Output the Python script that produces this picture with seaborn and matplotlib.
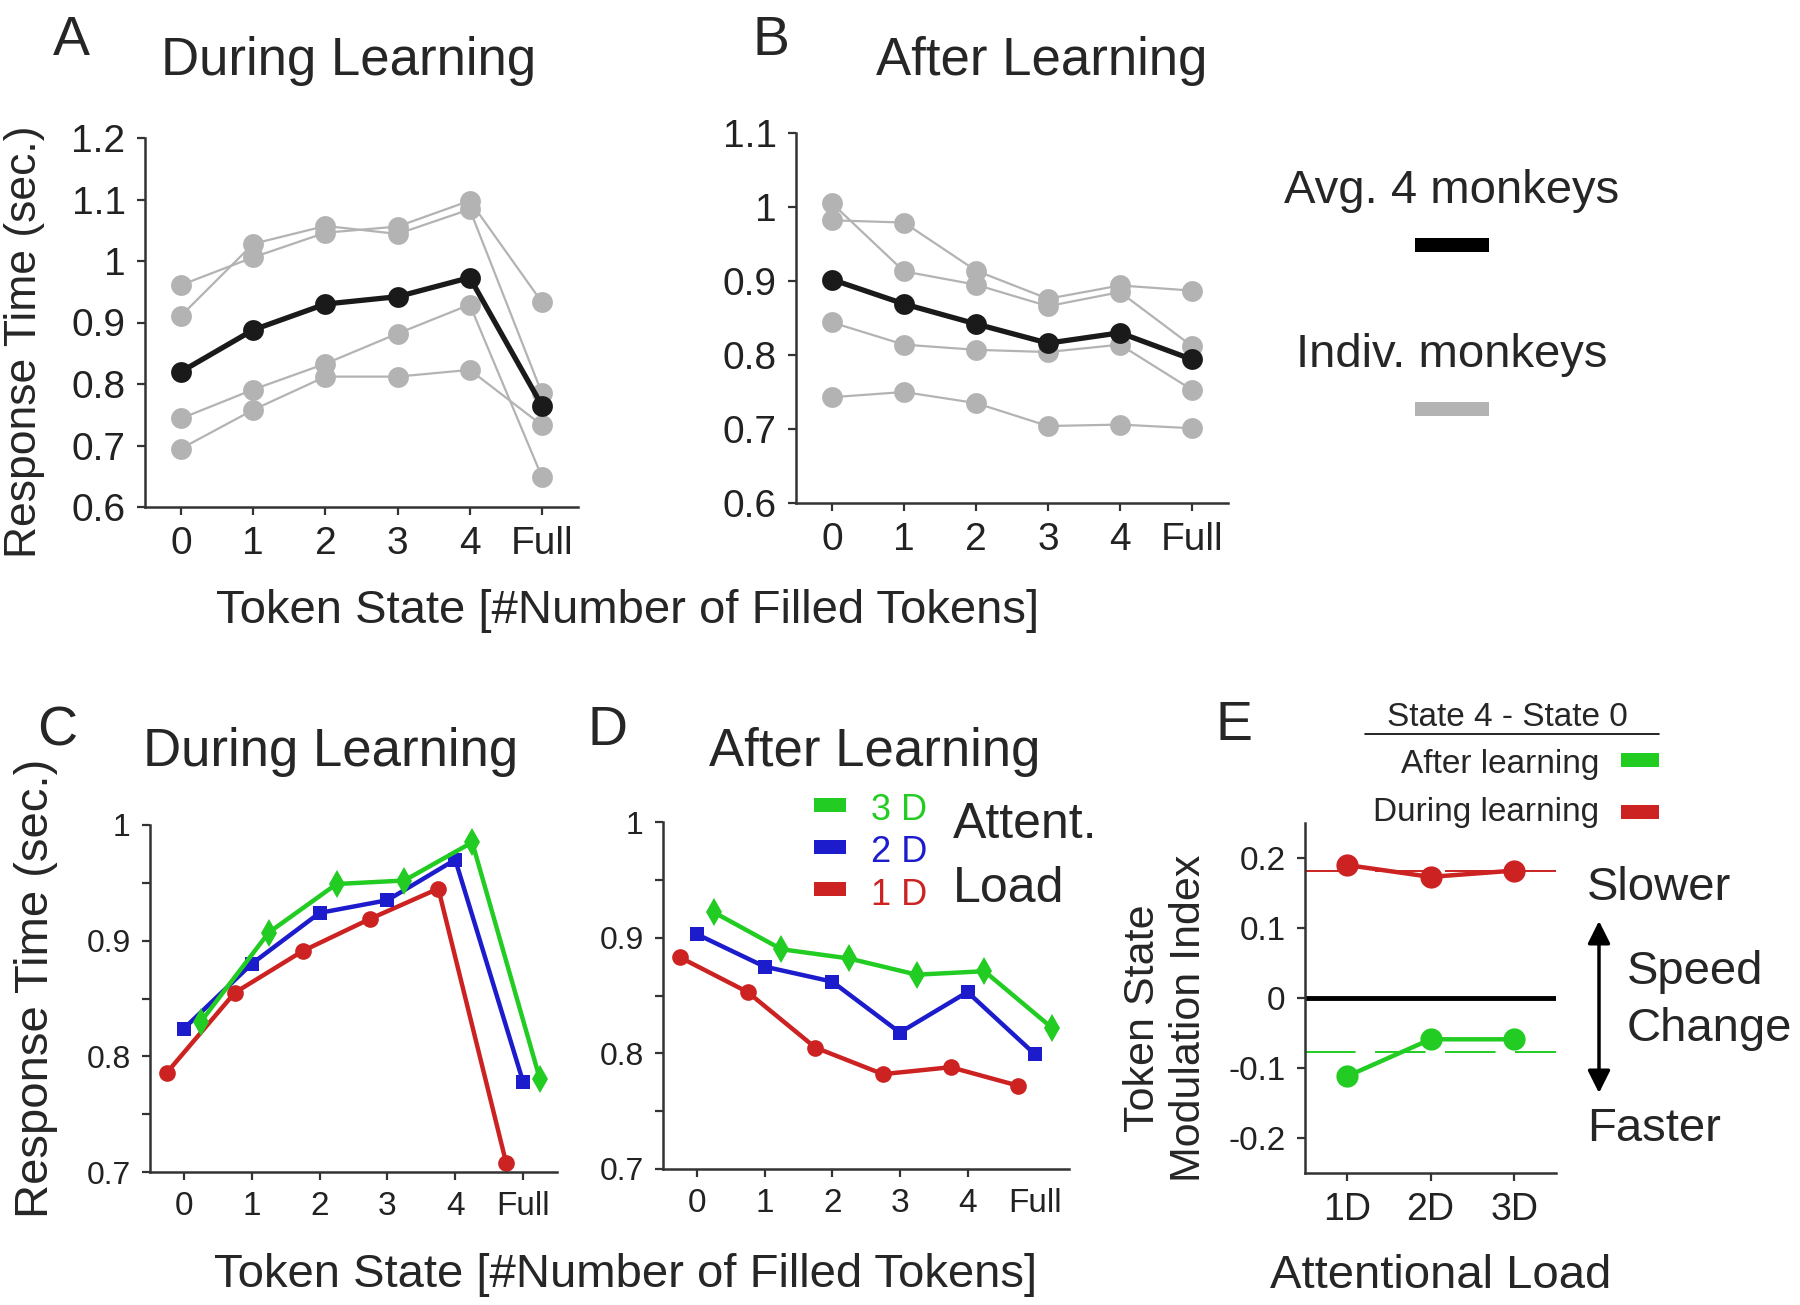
import numpy as np
import pandas as pd
import seaborn as sns
import matplotlib.pyplot as plt
from matplotlib.patches import Rectangle
from matplotlib.ticker import FuncFormatter

W, H = 1800, 1305

# token states on the x axis
states = ["0", "1", "2", "3", "4", "Full"]
state_pos = np.arange(len(states))

# A - during learning, response time per monkey and the average
a_avg = [0.820, 0.888, 0.930, 0.942, 0.973, 0.765]
a_m1 = [0.961, 1.006, 1.046, 1.056, 1.098, 0.933]
a_m2 = [0.911, 1.028, 1.057, 1.044, 1.084, 0.785]
a_m3 = [0.744, 0.791, 0.833, 0.882, 0.929, 0.649]
a_m4 = [0.695, 0.758, 0.812, 0.812, 0.823, 0.733]

# B - after learning
b_avg = [0.902, 0.869, 0.842, 0.816, 0.830, 0.794]
b_m1 = [1.005, 0.913, 0.895, 0.866, 0.885, 0.812]
b_m2 = [0.982, 0.979, 0.914, 0.876, 0.894, 0.887]
b_m3 = [0.844, 0.814, 0.807, 0.804, 0.814, 0.753]
b_m4 = [0.743, 0.750, 0.735, 0.704, 0.706, 0.701]

# C / D - by attentional load
load_names = ["1 D", "2 D", "3 D"]
c_1d = [0.786, 0.855, 0.891, 0.919, 0.945, 0.708]
c_2d = [0.824, 0.880, 0.924, 0.935, 0.970, 0.778]
c_3d = [0.830, 0.907, 0.949, 0.952, 0.985, 0.780]
d_1d = [0.883, 0.853, 0.805, 0.782, 0.788, 0.772]
d_2d = [0.903, 0.875, 0.862, 0.818, 0.853, 0.799]
d_3d = [0.922, 0.890, 0.882, 0.868, 0.871, 0.822]

# E - modulation index (state 4 - state 0)
loads = ["1D", "2D", "3D"]
e_during = [0.190, 0.173, 0.182]
e_after = [-0.112, -0.059, -0.059]

GRAY = "#b3b3b3"
BLACK = "#1a1a1a"
RED = "#cc2222"
BLUE = "#1c1ccc"
GREEN = "#22cc22"
load_colors = {"1 D": RED, "2 D": BLUE, "3 D": GREEN}
load_markers = {"1 D": ("o", 12), "2 D": ("s", 10), "3 D": ("d", 14)}
load_offset = {"1 D": -0.25, "2 D": 0.0, "3 D": 0.25}

sns.set_style("ticks")
plt.rcParams["font.family"] = ["Liberation Sans", "DejaVu Sans"]
plt.rcParams["axes.edgecolor"] = "#333333"
plt.rcParams["xtick.color"] = "#333333"
plt.rcParams["ytick.color"] = "#333333"
plt.rcParams["xtick.labelcolor"] = "#222222"
plt.rcParams["ytick.labelcolor"] = "#222222"

fig = plt.figure(figsize=(W / 100, H / 100), dpi=100)


def px_axes(x0, y0, x1, y1):
    return fig.add_axes([x0 / W, 1 - y1 / H, (x1 - x0) / W, (y1 - y0) / H])


def style_axes(ax, xsize, ysize):
    sns.despine(ax=ax)
    for s in ["left", "bottom"]:
        ax.spines[s].set_linewidth(1.8)
    ax.tick_params(axis="both", length=6, width=1.6, pad=8)
    ax.tick_params(axis="x", labelsize=xsize)
    ax.tick_params(axis="y", labelsize=ysize)
    ax.set_xlabel("")
    ax.set_ylabel("")


fmt = FuncFormatter(lambda v, p: "%g" % round(v, 2))


def monkeys_panel(ax, indiv, avg, ylim):
    for vals in indiv:
        sns.lineplot(x=state_pos, y=vals, color=GRAY, lw=1.6, marker="o", ms=15,
                     mec=GRAY, mew=0, ax=ax)
    sns.lineplot(x=state_pos, y=avg, color=BLACK, lw=3.8, marker="o", ms=15,
                 mec=BLACK, mew=0, ax=ax)
    ax.set_xlim(-0.5, 5.5)
    ax.set_ylim(*ylim)
    ax.set_xticks(state_pos)
    ax.set_xticklabels(states)
    ax.set_yticks(np.round(np.arange(ylim[0], ylim[1] + 0.001, 0.1), 2))
    ax.yaxis.set_major_formatter(fmt)
    style_axes(ax, 28, 28)


def load_panel(ax, series):
    for name, vals in zip(load_names, series):
        m, ms = load_markers[name]
        sns.lineplot(x=state_pos + load_offset[name], y=vals, color=load_colors[name],
                     lw=3.2, marker=m, ms=ms, mec=load_colors[name], mew=0, ax=ax)
    ax.set_xlim(-0.5, 5.5)
    ax.set_ylim(0.7, 1.0)
    ax.set_xticks(state_pos)
    ax.set_xticklabels(states)
    yt = np.round(np.arange(0.7, 1.001, 0.05), 2)
    ax.set_yticks(yt)
    ax.set_yticklabels(["%g" % v if round(v * 100) % 10 == 0 else "" for v in yt])
    style_axes(ax, 24, 23)


axA = px_axes(145, 138, 578, 507)
monkeys_panel(axA, [a_m1, a_m2, a_m3, a_m4], a_avg, (0.6, 1.2))
axB = px_axes(796, 133, 1228, 503)
monkeys_panel(axB, [b_m1, b_m2, b_m3, b_m4], b_avg, (0.6, 1.1))

axC = px_axes(150, 825, 557, 1172)
load_panel(axC, [c_1d, c_2d, c_3d])
axD = px_axes(663, 822, 1069, 1169)
load_panel(axD, [d_1d, d_2d, d_3d])
axD.xaxis.get_major_ticks()[5].tick1line.set_visible(False)

# E
axE = px_axes(1305, 823, 1556, 1173)
e_x = np.arange(len(loads))
axE.axhline(0, color="black", lw=3.5, zorder=1)
axE.axhline(np.mean(e_during), color=RED, lw=1.4, ls=(0, (26, 10)), zorder=1)
axE.axhline(np.mean(e_after), color=GREEN, lw=1.4, ls=(0, (26, 10)), zorder=1)
sns.lineplot(x=e_x, y=e_during, color=RED, lw=3.2, marker="o", ms=16, mec=RED, mew=0, ax=axE)
sns.lineplot(x=e_x, y=e_after, color=GREEN, lw=3.2, marker="o", ms=16, mec=GREEN, mew=0, ax=axE)
axE.set_xlim(-0.5, 2.5)
axE.set_ylim(-0.25, 0.25)
axE.set_xticks(e_x)
axE.set_xticklabels(loads)
axE.set_yticks([-0.2, -0.1, 0, 0.1, 0.2])
axE.yaxis.set_major_formatter(fmt)
style_axes(axE, 27, 24)

# overlay in pixel coordinates for labels and legends
ov = fig.add_axes([0, 0, 1, 1], zorder=10)
ov.set_xlim(0, W)
ov.set_ylim(H, 0)
ov.axis("off")
ov.patch.set_alpha(0)


def txt(x, y, s, size, ha="center", va="baseline", **kw):
    ov.text(x, y, s, fontsize=size, ha=ha, va=va, **kw)


# panel letters and titles
for letter, x, y in [("A", 71, 55), ("B", 771, 55), ("C", 57, 745), ("D", 608, 745), ("E", 1234, 740)]:
    txt(x, y, letter, 40)
txt(349, 75, "During Learning", 38)
txt(1042, 75, "After Learning", 38)
txt(331, 766, "During Learning", 38)
txt(875, 766, "After Learning", 38)

# axis labels
txt(25, 342, "Response Time (sec.)", 32, va="center", rotation=90)
txt(36, 988, "Response Time (sec.)", 34, va="center", rotation=90)
txt(628, 623, "Token State [#Number of Filled Tokens]", 34)
txt(626, 1287, "Token State [#Number of Filled Tokens]", 34)
txt(1166, 1018, "Token State\nModulation Index", 31, va="center", rotation=90, linespacing=1.2)
txt(1441, 1288, "Attentional Load", 34)

# legend for A/B
txt(1452, 203, "Avg. 4 monkeys", 34)
ov.add_patch(Rectangle((1415, 238), 74, 14, color="black", lw=0))
txt(1452, 367, "Indiv. monkeys", 34)
ov.add_patch(Rectangle((1415, 402), 74, 14, color=GRAY, lw=0))

# legend for D
for name, ytop, base in [("3 D", 798, 820), ("2 D", 840, 862), ("1 D", 882, 905)]:
    ov.add_patch(Rectangle((814, ytop), 32, 14, color=load_colors[name], lw=0))
    txt(871, base, name, 26, ha="left", color=load_colors[name])
txt(953, 838, "Attent.", 36, ha="left")
txt(953, 902, "Load", 36, ha="left")

# legend for E
txt(1507, 726, "State 4 - State 0", 24)
ov.plot([1365, 1659], [734, 734], color="black", lw=1.2)
txt(1599, 773, "After learning", 24, ha="right")
ov.add_patch(Rectangle((1621, 753), 38, 14, color=GREEN, lw=0))
txt(1599, 821, "During learning", 24, ha="right")
ov.add_patch(Rectangle((1621, 805), 38, 14, color=RED, lw=0))

txt(1587, 900, "Slower", 34, ha="left")
txt(1627, 984, "Speed", 34, ha="left")
txt(1627, 1041, "Change", 34, ha="left")
txt(1587, 1141, "Faster", 34, ha="left")
ov.annotate("", xy=(1599, 921), xytext=(1599, 1093),
            arrowprops=dict(arrowstyle="<|-|>", color="black", lw=2.5,
                            mutation_scale=34, shrinkA=0, shrinkB=0))

fig.savefig("out.png", dpi=100)
